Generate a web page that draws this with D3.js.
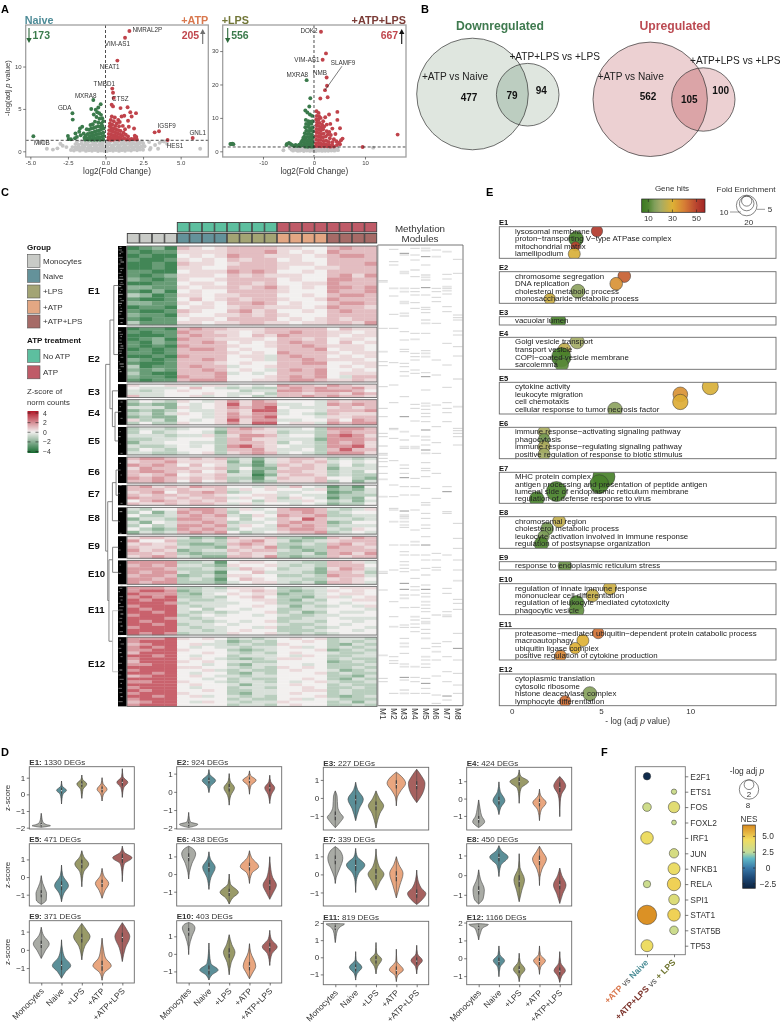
<!DOCTYPE html>
<html><head><meta charset="utf-8">
<script src="https://cdnjs.cloudflare.com/ajax/libs/d3/7.8.5/d3.min.js"></script>
<style>html,body{margin:0;padding:0;background:#fff}svg{display:block;font-family:"Liberation Sans",Arial,sans-serif;filter:blur(.35px)}</style>
</head><body><div id="chart"></div>
<script>
// ---------- A: volcano data ----------
const naiveGrey=[[-3.9,.3],[-3.5,.2],[-3.2,.35],[-4.4,1],[-4.1,1.05],[-3,.9],[-2.85,.65],[-2.6,.5],[3,.4],[3.3,.75],[3.5,.3],[3.6,1],[3.9,1.15],[3.75,1.2],[6.3,.3],[4.1,.9],[2.9,1.1],[2.95,.2],
[-2.3,.15],[-2.1,.1],[-1.9,.2],[-1.7,.08],[-1.5,.18],[-1.3,.05],[-1.1,.12],[-.9,.06],[-.7,.15],[-.5,.03],[-.3,.1],[-.1,.05],[.1,.04],[.3,.12],[.5,.06],[.7,.15],[.9,.05],[1.1,.14],[1.3,.07],[1.5,.17],[1.7,.1],[1.9,.2],[2.1,.13],[2.3,.22],[2.5,.18],
[-2.2,.5],[-2,.45],[-1.8,.55],[-1.6,.42],[-1.4,.5],[-1.2,.38],[-1,.47],[-.8,.36],[-.6,.44],[-.4,.4],[-.2,.35],[0,.4],[.2,.38],[.4,.45],[.6,.36],[.8,.47],[1,.4],[1.2,.5],[1.4,.42],[1.6,.53],[1.8,.45],[2,.55],[2.2,.48],[2.4,.58],[2.6,.6],
[-2,.85],[-1.8,.78],[-1.6,.88],[-1.4,.76],[-1.2,.84],[-1,.73],[-.8,.82],[-.6,.72],[-.4,.8],[-.2,.7],[.05,.75],[.25,.82],[.45,.72],[.65,.85],[.85,.74],[1.05,.86],[1.25,.76],[1.45,.88],[1.65,.8],[1.85,.9],[2.05,.83],[2.25,.92],[2.5,.95],
[-1.9,1.15],[-1.6,1.2],[-1.35,1.1],[-1.1,1.18],[-.85,1.08],[-.6,1.16],[-.35,1.06],[-.15,1.18],[.1,1.1],[.35,1.2],[.6,1.1],[.85,1.18],[1.1,1.08],[1.35,1.2],[1.6,1.12],[1.85,1.2],[2.1,1.14],[2.4,1.2],
[-1.75,.3],[-1.45,.28],[-1.15,.25],[-.85,.22],[-.55,.24],[-.25,.2],[.05,.22],[.35,.25],[.65,.26],[.95,.23],[1.25,.3],[1.55,.3],[1.85,.33],[2.15,.3],
[-1.5,.65],[-1.1,.6],[-.7,.58],[-.3,.6],[.1,.57],[.5,.6],[.9,.62],[1.3,.64],[1.7,.66],[2.1,.7],[-1.2,1],[-.7,.96],[-.2,.95],[.2,1],[.7,.97],[1.2,.98],[1.7,1.02],[2.2,1.05]];
const naiveDown=[[-4.8,1.77],[-2.2,4.49],[-2.18,3.74],[-2.03,1.54],[-2.3,1.42],[-2.45,1.45],[-2.5,1.8],[-2,2.1],[-1.9,1.7],[-1.75,2.3],[-1.65,1.9],[-1.7,2.7],[-1.55,2.9],[-1.45,2.1],[-1.4,1.6],[-1.35,1.4],
[-.81,6.06],[-.48,5.16],[-.32,5.55],[-.65,4.9],[-.95,5],[-.55,4.6],[-.42,4.5],[-.78,4.35],[-.3,4.3],[-.6,4.05],[-.4,3.85],[-.22,3.9],[-.7,3.5],[-.48,3.4],[-.28,3.3],[-.15,3.55],[-1,3.1],[-.85,3.2],[-1.25,2.6],[-1.1,2.55],[-.95,2.7],[-.8,2.75],[-.65,2.85],[-.5,2.95],[-.35,2.9],[-.2,3],[-.12,2.7],[-.28,2.6],[-.42,2.45],[-.58,2.4],[-.72,2.3],[-.88,2.2],[-1.02,2.15],[-1.18,2.05],[-1.32,1.85],[-1.22,1.55],[-1.05,1.75],[-.9,1.85],[-.75,1.9],[-.6,2],[-.45,2.05],[-.3,2.1],[-.15,2.2],[-.12,1.8],[-.25,1.7],[-.4,1.65],[-.55,1.6],[-.7,1.55],[-.85,1.5],[-1,1.45],[-1.15,1.4],[-.95,1.35],[-.75,1.35],[-.55,1.35],[-.35,1.35],[-.15,1.4]];
const naiveUp=[[1.59,14.2],[1.3,13.4],[.79,10.7],[.45,7.4],[.5,6.9],[.54,6.3],[.41,5.5],[.5,5.3],[1,5.1],[1.47,5.2],[1.65,4.6],[2.03,4.5],[1.25,4.2],[1.07,4.1],[1.74,4.1],[1.5,3.6],[1.9,2.7],[3.27,2.24],[3.56,2.36],[5.8,1.57],[4.13,1.34],
[.42,4.1],[.62,4],[.85,3.7],[.35,3.7],[.55,3.55],[.75,3.3],[.95,3.45],[.3,3.3],[.45,3.15],[.65,3],[.9,2.95],[1.15,3],[1.3,2.6],[1.55,2.9],[.28,2.95],[.4,2.75],[.55,2.7],[.7,2.6],[.85,2.5],[1,2.4],[1.2,2.2],[.25,2.5],[.38,2.4],[.52,2.3],[.68,2.2],[.82,2.1],[.98,2],[1.12,1.85],[1.35,1.95],[1.5,1.75],[.22,2.05],[.36,2],[.5,1.9],[.64,1.85],[.78,1.75],[.92,1.65],[1.05,1.5],[1.25,1.55],[1.4,1.4],[.2,1.65],[.34,1.6],[.48,1.55],[.62,1.5],[.76,1.42],[.9,1.38],[.2,1.38],[.35,1.35],[.5,1.35],[1.95,1.85],[2,1.6],[1.9,1.45],[2.08,1.4],[2.05,1.7],[1.72,1.45],[1.6,1.38]];
const lpsGrey=[[-6,.3],[11.6,1.1],[-4.7,.9],[-4.4,.5],[-4.1,.2],[-3.8,.95],[-3.5,.4],[-3.2,.15],[-2.9,.7],[-2.6,.3],[-2.3,1],[-2,.1],[-1.7,.55],[-1.4,.25],[-1.1,.85],[-.8,.12],[-.5,.6],[-.2,.2],[.1,.9],[.4,.1],[.7,.5],[1,.2],[1.3,.8],[1.6,.12],[1.9,.5],[2.2,.18],[2.5,.85],[2.8,.15],[3.1,.55],[3.4,.25],[3.7,.9],[4,.2],[4.3,.5],[4.7,.35],
[-4,.55],[-3.3,.75],[-2.8,.2],[-2.4,.65],[-1.9,.9],[-1.5,1.1],[-1,.45],[-.6,1],[-.3,.6],[.2,.45],[.6,1.05],[1.2,.5],[1.7,.95],[2.3,.55],[2.9,1],[3.5,.7],[4.2,1],[4.6,.85]];
const lpsDown=[[-16.4,2.2],[-16.2,2.2],[-16,2.25],[-15.8,2.15],[-5.4,1.9],[-5.3,2.2],[-4.9,2.5],[-4.6,2.2],[-4.3,1.9],[-3.9,1.6],[-3.6,1.9],[-3.3,1.6],[-2.9,2],[-2.7,1.6],[-2.5,2.7],[-2.3,3.2],[-2.4,1.8],[-2.1,4],
[-1.44,21.3],[-.72,15.9],[-.92,13.4],[-1.7,12.2],[-1.3,11.6],[-.8,11],[-.35,10.6],[-1.6,9.4],[-1.1,9],[-.7,8.9],[-.3,9],[-1.55,8.2],[-1,8.1],[-.5,8.2],[-1.7,7.2],[-1.2,7.3],[-.8,7],[-.3,7.1],[-1.5,6.2],[-1,6.1],[-.55,6.2],[-.2,6],[-1.8,5.4],[-1.3,5.2],[-.85,5.2],[-.4,5],[-1.9,4.4],[-1.5,4.2],[-1,4.2],[-.6,4.3],[-.2,4.1],[-1.8,3.5],[-1.3,3.2],[-.85,3.3],[-.4,3.4],[-2,2.9],[-1.6,2.5],[-1.1,2.4],[-.7,2.5],[-.25,2.6],[-2,2],[-1.6,1.8],[-1.2,1.7],[-.8,1.7],[-.35,1.8],[-1.7,1.4],[-1.2,1.35],[-.6,1.4],[-.2,1.4]];
const lpsUp=[[1.37,35.8],[2.35,29.3],[1.7,27.4],[2.48,22.1],[2.55,19.6],[2.16,18.3],[1.24,15.8],[2.68,16.2],[4.58,11.8],[4.58,9.4],[5.1,6.9],[16.4,5],[9.54,1.3],
[.5,12],[.9,11.5],[.55,10.6],[1,10.5],[1.3,10],[.45,9.6],[.9,9.5],[2.95,11],[2.2,10.2],[3.2,8.2],[2.5,8],[1.8,9],[.6,8.7],[1.1,8.5],[1.6,8],[.5,7.8],[.95,7.6],[1.4,7.2],[2,7.4],[.45,6.7],[.9,6.6],[1.35,6.2],[1.8,6.6],[2.5,6],[3,5.8],[3.6,6.8],[.5,5.7],[.95,5.5],[1.4,5.2],[1.9,5.3],[2.7,5],[3.3,4.9],[4.2,5.2],[.4,4.6],[.85,4.5],[1.3,4.3],[1.8,4.2],[2.3,4.4],[3.1,3.9],[3.9,3.6],[5.6,3.8],[5.3,3.3],[.45,3.5],[.9,3.4],[1.35,3.4],[1.9,3.1],[2.4,3.2],[2.9,2.8],[3.6,2.7],[4.4,3],[4.9,2.6],[5.1,2.1],[4.5,1.9],[.4,2.4],[.85,2.5],[1.35,2.3],[1.9,2.2],[2.4,2.1],[3,1.9],[3.6,1.8],[.4,1.6],[.9,1.6],[1.4,1.5],[2,1.5],[2.6,1.5],[3.2,1.4],[3.9,1.45]];
const naiveLabels=[["NMRAL2P",1.59,14.2,17.9,-1],["VIM-AS1",1.3,13.4,-7.7,5.9],["NEAT1",.79,10.7,-7.7,6],["TMBD1",.45,7.4,-8,-5.3],["MXRA8",-.81,6.06,-7.6,-4.9],["CTSZ",.5,6.9,7.3,5.8],["GDA",-2.2,4.49,-7.7,-5.6],["IGSF9",3.56,2.36,7.7,-5.6],["GNL1",5.8,1.57,5,-5.3],["HES1",4.13,1.34,7.4,5.7],["MICB",-4.8,1.77,8.6,6]];
const lpsLabels=[["DOK2",1.37,35.8,-12,-1],["VIM-AS1",1.7,27.4,-15.7,0],["SLAMF9",2.16,18.3,18,-27.8],["MXRA8",-1.44,21.3,-9.4,-5.4],["NMB",2.48,22.1,-6.6,-5]];
const volcanoXTicksA=[-5,-2.5,0,2.5,5], volcanoYTicksA=[0,5,10];
const volcanoXTicksB=[-10,0,10], volcanoYTicksB=[0,10,20,30];

// ---------- B: venn ----------
const vennDownCounts=[477,79,94], vennUpCounts=[562,105,100];

// ---------- C: heatmap ----------
const clusterNames=["E1","E2","E3","E4","E5","E6","E7","E8","E9","E10","E11","E12"];
const clusterGenes=[1330,924,227,424,471,438,339,450,371,403,819,1166];
const groupNames=["Monocytes","Naive","+LPS","+ATP","+ATP+LPS"];
const atpNames=["No ATP","ATP"];
const heatCodeValues=[-3.4,-2.7,-1.9,-1.1,-.5,0,.45,1,1.7,2.8];
const heatE1=["0120 7656 7777 6655 7877","1011 6666 7778 6565 8777","0100 5656 8776 6656 7887","1001 6565 7677 5655 7777","0010 7665 6777 6665 7778","0010 6655 7777 6556 6777","1100 5666 8787 5565 7777","1012 6665 7676 6655 7868","2101 6556 7777 5655 8877","0011 5665 7767 5566 8777","2211 6566 7678 6565 8878","1020 5655 7777 6555 8778","3201 6656 6777 5565 7887","1001 5756 7677 6556 8777","2211 6565 7787 5655 7887","0110 5665 6776 6656 8776","1001 7655 7867 5565 7877","2110 6556 6767 6555 7777","1011 5665 7777 5656 7677","3111 6656 6776 6566 7768"];
const heatE2=["0110 7877 6667 7777 5766","1011 8776 6567 7877 6656","0001 7877 6576 8777 6566","0120 8776 6665 7767 5665","1021 7787 5656 7877 5756","1010 8777 6556 7787 6665","0101 7887 5655 7778 5665","1101 7777 6565 8777 6566","0010 8777 5664 7877 5656","2101 7787 5564 7787 6665","1001 7776 5655 7788 5566","3011 7877 4556 7777 5656","2121 7787 5654 7878 5565","3100 7778 4545 7778 5666","2110 8778 5556 7878 5477","1011 7888 5566 7887 6676"];
const heatE3=["6556 6466 4545 8776 8766","5444 5754 3433 7878 7786","4345 6555 5344 8878 8875","4445 5565 4453 7767 7687","7445 5645 4534 7787 8776"];
const heatE4=["3543 6546 8687 5554 7677","2322 5456 9688 4454 8787","4442 6456 8789 5444 6767","2323 5446 7699 4554 7778","3424 6546 8688 4543 7666","2322 5546 8789 5554 6677","6342 5456 9688 4455 7587","3533 6556 8699 5664 8788"];
const heatE5=["3443 4553 7876 4453 8887","3534 5542 7766 3443 7877","4443 4463 6887 4553 8986","3344 5553 7866 4442 8887","2445 5443 7776 3543 8786","4334 5453 8976 5443 8896","3543 5553 7786 4453 7977","4433 4563 6787 4543 8886"];
const heatE6=["7887 6767 3424 6776 3434","6778 6666 2414 6767 4545","8787 5756 3313 7676 3534","6877 7667 3522 6776 2444","7887 6756 2413 7766 3435","7678 5667 4402 6776 3433","8787 6767 3314 7667 5532","7787 5756 3423 6667 3524"];
const heatE7=["7867 6877 5546 4754 1315","7776 7667 4656 5546 2324","6785 7787 3455 4455 1234","7677 6776 5566 4544 2333","8776 7677 4656 3654 1325","5787 6767 5536 4465 3424","7667 6776 4645 5454 2335"];
const heatE8=["4355 7887 4645 7887 4346","3524 8787 3554 7787 3455","5334 7878 4365 8778 3344","2443 8877 5354 7697 4434","4254 7787 3445 7877 2355","3534 8878 4654 8787 3444","5323 8787 3544 7887 4365","2434 7878 5345 6778 3454"];
const heatE9=["6776 4232 7667 3322 7687","8557 3343 6786 4234 6777","6766 3223 7876 3343 7867","7667 4332 6768 3233 8776","8676 2344 7677 4323 7777","7767 3233 6766 3342 7868","6787 4322 7768 3233 7677"];
const heatE10=["8888 3341 5665 4433 7764","7878 4432 6556 4343 7775","8887 3343 4765 3442 6874","8788 4331 5574 4432 7763","7887 2342 6655 3343 8774","8878 3431 5765 4433 6765","8788 3332 4566 4342 7764"];
const heatE11=["8887 3343 6665 3344 5666","8998 2344 5676 3234 6565","9888 3245 6566 2334 5665","8989 3343 5675 3324 6456","9899 4334 5566 3243 5566","9998 3444 4556 3334 5455","8999 4344 5565 4243 4546","9899 4535 5455 3344 5554","9989 4343 4556 3423 5445","8999 3454 5545 4334 4555","9998 4345 5555 3344 5444","9899 4434 5456 3443 5545","9989 3445 4555 4334 5455","8999 4344 5546 3343 4554","9999 4434 5655 3334 5545","9898 3444 6556 4343 4555"];
const heatE12=["8889 6565 3434 5656 3443","8999 5554 2343 5565 3434","7899 5644 3433 6555 3243","8989 5454 4344 5645 3434","8899 6555 3234 5556 2343","7999 5565 4343 5655 4334","9989 5455 3444 5465 3344","8999 5654 3234 6655 3433","7999 6565 4433 5555 2343","8899 5545 3244 5545 3334","9999 6655 4343 6565 3343","8999 5564 3433 5655 4234","9989 5455 3243 5556 3433","7899 5654 4344 5555 3324","9999 5545 3433 5565 3243","8899 6554 3443 5456 4334","9999 5655 4244 5655 3433","8999 5455 3443 5565 3343","9899 5565 3344 5566 3433","8999 6555 3244 5655 3433","9989 5645 4343 5556 3234","8999 5555 3433 5645 4333","7899 5465 4344 6555 3424","8999 5555 3443 5655 3343"];
const heatByCluster=[heatE1,heatE2,heatE3,heatE4,heatE5,heatE6,heatE7,heatE8,heatE9,heatE10,heatE11,heatE12];
const treeMerges={h:1,children:[{h:.79,children:[{h:.6,children:[{c:0},{c:1}]},{h:.67,children:[{c:2},{h:.54,children:[{c:3},{c:4}]}]}]},{h:.9,children:[{h:.67,children:[{h:.49,children:[{c:5},{c:6}]},{c:7}]},{h:.84,children:[{h:.66,children:[{c:8},{c:9}]},{h:.66,light:true,children:[{c:10},{c:11}]}]}]}]};
const leafFleckRows=[22,30,36,41,52,60,66,72,85,92,100,110,118,127,133,140,148,155,163,175,182,190,197,205,214,222,236,248,275,283,290,300,310,318,325,333,340,352,365,372,380,388,395,486,500,515,535,575,590,612,640,670,690,705,735,760,790,815,845,880,905,930,975,1000,1035,1045,1055,1070,1080,1090,1100,1110,1122,1135,1146,1158,1175,1188,1200,1212,1225,1238,1250,1270,1290,1305,1318,1330,1345,1358,1370,1385];
const leafFleckLengths=[3,5,4,2,6,4,5,3,6,2,4,5,7,3,6,4,3,2,6,3,5,5,2,2,4,4,6,3,4,5,2,3,5,4,6,5,3,4,2,6,5,3,3,3,2,4,3,2,3,2,3,2,3,2,3,2,3,4,2,3,2,3,2,4,3,4,2,5,3,3,6,6,4,4,5,3,5,3,2,5,4,3,3,5,4,4,6,2,5,4,3,6];
const leafFleckStarts=[1,0,2,1,0,1,2,0,1,2,0,1,0,2,1,0,2,1,0,1,2,0,1,2,1,0,1,2,0,1,2,1,0,2,1,0,1,2,0,1,2,0,1,2,1,0,2,1,0,1,2,1,0,2,1,0,2,1,0,1,2,0,1,0,2,1,0,1,2,0,1,0,2,1,0,2,1,0,1,2,0,1,2,0,1,0,1,2,0,1,2,0];
const moduleNames=["M1","M2","M3","M4","M5","M6","M7","M8"];
const methLight=[[395,678,1306,705,778,830,1055],[205,628,905,1220],[155,160,205,215,245,250,280,288,635,660,680,885,895,905,1125,1135,1270,1280,1340,1410,1420],[150,358,680,685,965,975,1190,1200,1340],[85,92,165,172,180,300,310,400,410,550,650,660,700,855,1065,1130,1145,1205,1210,1255,1310],[110,1185,1295],[95,200,212],[477,560,1082]];
const methMid=[[182,186,325,425,437,500,565,590,640,650,700,715,725,740,760,1060,1110,1375,1385],[88,125,135,228,283,325,428,495,548,625,655,722,795,830,865,870,975,1050,1145,1190,1310,1322,1330,1420],[105,335,360,388,395,430,440,455,468,530,685,735,745,760,800,825,890,915,922,975,995,1005,1025,1035,1045,1055,1163,1215,1222,1255,1300,1332,1380],[85,105,120,170,205,215,225,248,265,340,400,410,420,450,460,553,565,603,648,775,800,825,870,930,1005,1050,1075,1100,1110,1125,1162,1212,1222,1235,1372,1385,1420],[135,225,262,268,278,340,392,458,510,558,568,580,590,605,675,728,745,752,770,805,848,880,895,915,925,950,1005,1020,1045,1095,1120,1155,1165,1175,1195,1228,1240,1285,1320,1332,1342,1375,1405,1420],[90,205,215,232,245,310,420,465,555,620,668,700,760,835,1000,1020,1042,1050,1270,1280,1320,1368,1425,1450],[163,177,205,222,260,275,370,435,502,548,565,578,605,800,875,880,1005,1105,1120,1175,1185,1190,1265,1310,1355,1385,1440],[118,160,285,293,300,333,345,380,408,625,632,640,650,675,910,955,985,1020,1050,1138,1150,1168,1240,1320,1360,1395,1420]];
const methDark=[[],[],[100,590,773,873,1090,1108,1372],[],[110,203,470,630,690,975,1108,1390],[],[815,1428],[1285]];

// ---------- D: violins, each violin listed as [z-score, density] from top to bottom ----------
const violinNames=["Monocytes","Naive","+LPS","+ATP","+ATP+LPS"];
const violinCounts=[1330,924,227,424,471,438,339,450,371,403,819,1166];
const violinDomains=[[-2.08,1.66],[-2.04,1.38],[-1.78,1.7],[-1.81,1.8],[-1.64,1.89],[-1.81,1.72],[-1.75,1.7],[-1.57,1.6],[-1.82,1.6],[-1.66,1.89],[-1.6,2.1],[-1.48,2.07]];
const violinMedians=[[-1.82,.22,.62,.3,.72],[-1.77,.62,.22,.64,.22],[-1,-.1,-.44,.75,.7],[-1.2,-.12,.98,-.23,.65],[-.95,-.49,.74,-.36,1.05],[.95,.38,-1.04,.42,-.62],[.8,.5,.02,-.1,-1.06],[-.78,.9,-.3,.75,-.5],[.3,-.85,.65,-.87,.68],[1.25,-.92,.05,-.7,.38],[1.72,-.62,-.15,-.76,-.22],[1.7,-.18,-.64,-.18,-.72]];
const violinE1=[[[-1.14,0],[-1.4,.06],[-1.66,.16],[-1.82,.55],[-1.88,.92],[-1.93,.6],[-1.98,0]],[[.8,0],[.5,.07],[.24,.5],[.02,.15],[-.25,.05],[-.58,0]],[[1.16,0],[.9,.08],[.62,.5],[.3,.12],[0,.05],[-.24,0]],[[1,0],[.65,.1],[.3,.5],[.02,.16],[-.4,0]],[[1.54,0],[1.05,.08],[.72,.55],[.42,.16],[.1,.04],[-.18,0]]];
const violinE2=[[[-1.13,0],[-1.45,.07],[-1.66,.18],[-1.78,.92],[-1.88,.6],[-1.96,0]],[[1.22,0],[.95,.1],[.62,.67],[.3,.16],[.1,.05],[-.04,0]],[[1,0],[.6,.1],[.22,.53],[-.2,.16],[-.73,0]],[[1.15,0],[.9,.12],[.64,.67],[.35,.16],[-.13,0]],[[.91,0],[.55,.1],[.22,.5],[-.15,.17],[-.64,0]]];
const violinE3=[[[.39,0],[.1,.18],[-.5,.24],[-.85,.5],[-1.07,.8],[-1.3,.55],[-1.65,0]],[[.87,0],[.45,.2],[-.07,.77],[-.6,.35],[-1.26,0]],[[.39,0],[-.05,.35],[-.44,.77],[-.85,.4],[-1.67,0]],[[1.43,0],[1.2,.5],[.81,.93],[.4,.45],[0,.08],[-.44,0]],[[1.59,0],[1.2,.5],[.81,.83],[.2,.55],[-.26,0]]];
const violinE4=[[[-.08,0],[-.6,.15],[-1,.3],[-1.33,.6],[-1.55,.3],[-1.67,0]],[[.96,0],[.4,.14],[-.12,.6],[-.5,.2],[-.92,0]],[[1.65,0],[1.3,.15],[.98,.93],[.6,.2],[.2,.05],[-.27,0]],[[.54,0],[.15,.15],[-.23,.67],[-.65,.18],[-1.27,0]],[[1.27,0],[1,.4],[.73,.6],[.25,.18],[-.2,.05],[-1.04,0]]];
const violinE5=[[[.08,0],[-.35,.15],[-.7,.4],[-.92,.53],[-1.3,.5],[-1.55,0]],[[.68,0],[.1,.12],[-.49,.7],[-.9,.25],[-1.4,0]],[[1.49,0],[1.15,.2],[.74,.7],[.3,.2],[-.1,.06],[-.55,0]],[[.49,0],[.05,.2],[-.36,.67],[-.75,.3],[-1.2,0]],[[1.75,0],[1.4,.2],[1.09,.97],[.75,.2],[.3,.05],[-.26,0]]];
const violinE6=[[[1.58,0],[1.4,.5],[1.13,.7],[.6,.33],[.1,.08],[-.28,0]],[[1.26,0],[.85,.15],[.38,.63],[-.2,.2],[-.87,0]],[[0,0],[-.55,.12],[-1.04,.92],[-1.35,.35],[-1.7,0]],[[1.32,0],[.95,.2],[.42,.92],[.05,.25],[-.53,0]],[[.98,0],[.4,.08],[-.2,.3],[-.62,.67],[-1.05,.35],[-1.43,0]]];
const violinE7=[[[1.54,0],[1.3,.5],[.89,.75],[.3,.42],[-.15,.1],[-.5,0]],[[1.44,0],[1,.15],[.52,.92],[.05,.3],[-.4,.06],[-1,0]],[[1.41,0],[.85,.1],[.4,.35],[.02,.8],[-.4,.4],[-.87,0]],[[.98,0],[.55,.25],[.06,.67],[-.6,.35],[-1.3,0]],[[.24,0],[-.3,.12],[-.75,.45],[-1.06,.92],[-1.4,.55],[-1.67,0]]];
const violinE8=[[[.27,0],[-.2,.18],[-.75,.57],[-1.2,.45],[-1.47,0]],[[1.5,0],[1.25,.25],[.92,.92],[.5,.2],[-.07,0]],[[1.09,0],[.4,.08],[-.24,.53],[-.8,.25],[-1.35,0]],[[1.47,0],[1.2,.3],[.82,.7],[.3,.25],[-.1,.05],[-.53,0]],[[.36,0],[0,.2],[-.5,.63],[-.95,.3],[-1.44,0]]];
const violinE9=[[[1.24,0],[.8,.22],[.33,.8],[-.05,.4],[-.47,0]],[[.55,0],[0,.1],[-.4,.3],[-.87,.92],[-1.2,.4],[-1.56,0]],[[1.45,0],[1.1,.45],[.73,.83],[.2,.3],[-.55,0]],[[.64,0],[0,.15],[-.45,.35],[-.87,.92],[-1.25,.25],[-1.67,0]],[[1.49,0],[1.1,.45],[.73,.75],[.1,.3],[-.64,0]]];
const violinE10=[[[1.79,0],[1.68,.45],[1.47,.63],[1,.33],[.4,.05],[-.04,0]],[[.62,0],[0,.06],[-.55,.2],[-.92,.92],[-1.2,.3],[-1.49,0]],[[1.09,0],[.55,.25],[.09,.58],[-.5,.2],[-1.19,0]],[[.58,0],[.1,.12],[-.7,.63],[-1.1,.3],[-1.42,0]],[[1.34,0],[.85,.15],[.4,.75],[0,.22],[-.66,0]]];
const violinE11=[[[1.97,0],[1.95,.92],[1.78,.5],[1.55,.2],[1.2,.08],[.86,0]],[[.33,0],[-.15,.05],[-.58,.63],[-.95,.15],[-1.33,0]],[[.86,0],[.25,.07],[-.12,.57],[-.55,.15],[-.97,0]],[[.47,0],[-.2,.05],[-.74,.7],[-1.05,.15],[-1.42,0]],[[.7,0],[.2,.08],[-.19,.57],[-.55,.12],[-.97,0]]];
const violinE12=[[[1.94,0],[1.89,.97],[1.7,.4],[1.45,.2],[1.2,.06],[1.03,0]],[[.69,0],[.2,.1],[-.13,.57],[-.5,.12],[-1.03,0]],[[.28,0],[-.2,.1],[-.62,.58],[-1,.12],[-1.31,0]],[[.69,0],[.2,.1],[-.13,.6],[-.5,.12],[-.9,0]],[[.37,0],[-.25,.1],[-.69,.57],[-1,.2],[-1.35,0]]];
const violinsByCluster=[violinE1,violinE2,violinE3,violinE4,violinE5,violinE6,violinE7,violinE8,violinE9,violinE10,violinE11,violinE12];

// ---------- E: enrichment ----------
const goTerms=[["lysosomal membrane","proton\u2212transporting V\u2212type ATPase complex","mitochondrial matrix","lamellipodium"],["chromosome segregation","DNA replication","cholesterol metabolic process","monosaccharide metabolic process"],["vacuolar lumen"],["Golgi vesicle transport","transport vesicle","COPI\u2212coated vesicle membrane","sarcolemma"],["cytokine activity","leukocyte migration","cell chemotaxis","cellular response to tumor necrosis factor"],["immune response\u2212activating signaling pathway","phagocytosis","immune response\u2212regulating signaling pathway","positive regulation of response to biotic stimulus"],["MHC protein complex","antigen processing and presentation of peptide antigen","lumenal side of endoplasmic reticulum membrane","regulation of defense response to virus"],["chromosomal region","cholesterol metabolic process","leukocyte activation involved in immune response","regulation of postsynapse organization"],["response to endoplasmic reticulum stress"],["regulation of innate immune response","mononuclear cell differentiation","regulation of leukocyte mediated cytotoxicity","phagocytic vesicle"],["proteasome\u2212mediated ubiquitin\u2212dependent protein catabolic process","macroautophagy","ubiquitin ligase complex","positive regulation of cytokine production"],["cytoplasmic translation","cytosolic ribosome","histone deacetylase complex","lymphocyte differentiation"]];
const goLogP=[[4.77,3.6,3.57,3.5],[6.3,5.85,3.7,2.13],[2.6],[3.66,2.95,2.77,2.8],[11.12,9.44,9.44,5.78],[1.81,1.81,1.81,1.81],[5.16,4.9,2.5,1.4],[2.65,1.98,1.78,1.65],[2.97],[5.5,4.52,3.63,3.63],[4.84,3.98,3.55,2.73],[null,null,4.37,2.99]];
const goFold=[[6.1,10.2,4.1,6.8],[7.6,7.6,9.3,6.1],[11.1],[9.3,7.6,17.7,8.4],[12.1,10.2,11.1,10.2],[6.8,6.1,6.8,6.8],[22.9,16.5,18.9,10.2],[7.6,7.6,6.1,9.3],[8.4],[8.4,7.6,10.2,10.2],[6.1,6.8,6.1,6.1],[null,null,9.3,6.1]];
const goHits=[[52,8,50,29],[45,36,17,27],[8],[20,25,7,11],[29,36,31,17],[21,14,22,20],[8,8,8,8],[25,14,15,10],[13],[27,26,9,12],[42,30,30,38],[null,null,16,43]];
const hitTicks=[10,30,50], foldLegend=[5,10,20], logpTicks=[0,5,10];

// ---------- F: TF bubble ----------
const tfNames=["E2F1","ETS1","FOS","FOXL2","IRF1","JUN","NFKB1","RELA","SPI1","STAT1","STAT5B","TP53"];
const tfSizeAtp=[1.16,null,1.57,null,3.37,null,null,1.16,null,8,null,3.06];
const tfSizeLps=[null,.62,2.76,.49,null,1.88,3.06,3.8,2.39,3.37,1.57,null];
const tfNesAtp=[-2.8,null,3,null,4.3,null,null,2.9,null,6.6,null,4.3];
const tfNesLps=[null,2.9,3.8,2.8,null,3.3,4.2,4.8,3.6,4.8,2.9,null];
const nesTicks=[-2.5,0,2.5,5];

const groupColors=["#c9cbc7","#64929a","#a3a474","#e3a783","#a66b67"];
const violinColors=["#a9aba5","#5b8f98","#999a68","#e9a67f","#a6615f"];
const atpColors=["#5dbf9f","#bf5b68"];
const textCol="#2b2b2b";

const svg=d3.select("#chart").append("svg").attr("width",781).attr("height",1025).attr("viewBox","0 0 781 1025");
const defs=svg.append("defs");
function T(g,x,y,s,o={}){const t=g.append("text").attr("x",x).attr("y",y).attr("font-size",o.size||7).attr("fill",o.fill||textCol).attr("text-anchor",o.anchor||"start").attr("dominant-baseline","central");if(o.weight)t.attr("font-weight",o.weight);if(o.rot!=null)t.attr("transform",`rotate(${o.rot} ${x} ${y})`);t.text(s);return t;}
[["A",1,9],["B",421,9],["C",1,192],["D",1,752],["E",486,192],["F",601,752]].forEach(d=>T(svg,d[1],d[2],d[0],{size:11,weight:"bold",fill:"#000"}));

// ---------- Panel A ----------
function styleAxis(a,fs,col){a.select(".domain").remove();a.selectAll("line").attr("stroke","#444").attr("stroke-width",.7);a.selectAll("text").attr("font-size",fs).attr("fill",col||"#333").attr("font-family","Liberation Sans, Arial, sans-serif");}
const hyphenFmt=f=>v=>f(v).replace("\u2212","-");
function volcano(o){
  const g=svg.append("g");
  const x=d3.scaleLinear(o.xd,[o.x0,o.x1]),y=d3.scaleLinear(o.yd,[157,25]);
  const pts=(d,c)=>g.append("g").selectAll("circle").data(d).join("circle").attr("cx",p=>x(p[0])).attr("cy",p=>y(p[1])).attr("r",1.95).attr("fill",c);
  pts(o.grey,"#c5c5c5");pts(o.down,"#3a7a4b");pts(o.up,"#c0434b");
  g.append("line").attr("x1",o.x0).attr("x2",o.x1).attr("y1",y(1.3)).attr("y2",y(1.3)).attr("stroke","#222").attr("stroke-width",.8).attr("stroke-dasharray","3,2");
  g.append("line").attr("x1",x(0)).attr("x2",x(0)).attr("y1",25).attr("y2",157).attr("stroke","#222").attr("stroke-width",.8).attr("stroke-dasharray","3,2");
  g.append("rect").attr("x",o.x0).attr("y",25).attr("width",o.x1-o.x0).attr("height",132).attr("fill","none").attr("stroke","#a0a0a0").attr("stroke-width",1.3);
  const ax=g.append("g").attr("transform","translate(0,157)").call(d3.axisBottom(x).tickValues(o.xt).tickSize(2.5).tickPadding(1.5).tickFormat(hyphenFmt(o.xf)));styleAxis(ax,6,"#444");
  const ay=g.append("g").attr("transform",`translate(${o.x0},0)`).call(d3.axisLeft(y).tickValues(o.yt).tickSize(2.5).tickPadding(1.5).tickFormat(d3.format("d")));styleAxis(ay,6,"#444");
  T(g,(o.x0+o.x1)/2,171,"log2(Fold Change)",{size:8.2,anchor:"middle",fill:"#333"});
  T(g,o.x0-1,19.5,o.t1,{size:10.8,weight:"bold",fill:o.c1});
  T(g,o.x1,19.5,o.t2,{size:10.8,weight:"bold",fill:o.c2,anchor:"end"});
  T(g,o.dx+3.5,35,o.nDown,{size:10.5,weight:"bold",fill:"#3b7b4c"});
  T(g,o.ux-3.5,35,o.nUp,{size:10.5,weight:"bold",fill:"#c0474e",anchor:"end"});
  const ar=(ax0,dir,col)=>{const y0=dir>0?28:44,y1=dir>0?43:29;g.append("line").attr("x1",ax0).attr("x2",ax0).attr("y1",y0).attr("y2",y1-dir*4).attr("stroke",col).attr("stroke-width",1.1);g.append("path").attr("d",`M${ax0-2.7},${y1-dir*5}L${ax0+2.7},${y1-dir*5}L${ax0},${y1}Z`).attr("fill",col);};
  ar(o.dx,1,"#2e6a3c");ar(o.ux,-1,o.upCol);
  o.labels.forEach(l=>{T(g,x(l[1])+l[3],y(l[2])+l[4],l[0],{size:6.3,anchor:"middle",fill:"#333"});});
  if(o.lead){g.append("line").attr("x1",x(o.lead[0])).attr("y1",y(o.lead[1])).attr("x2",x(o.lead[0])+17).attr("y2",y(o.lead[1])-24).attr("stroke","#222").attr("stroke-width",.6);}
}
volcano({x0:25.7,x1:208.3,xd:[-5.31,6.84],yd:[-.67,14.9],grey:naiveGrey,down:naiveDown,up:naiveUp,xt:volcanoXTicksA,yt:volcanoYTicksA,xf:d3.format(".1f"),t1:"Naive",c1:"#4d8b97",t2:"+ATP",c2:"#d9784e",dx:29,ux:202.7,nDown:"173",nUp:"205",upCol:"#6f6f6f",labels:naiveLabels});
volcano({x0:222.7,x1:406,xd:[-17.9,18.04],yd:[-1.7,37.8],grey:lpsGrey,down:lpsDown,up:lpsUp,xt:volcanoXTicksB,yt:volcanoYTicksB,xf:d3.format("d"),t1:"+LPS",c1:"#717637",t2:"+ATP+LPS",c2:"#7a3a35",dx:227.7,ux:401.7,nDown:"556",nUp:"667",upCol:"#111",labels:lpsLabels,lead:[2.16,18.3]});
T(svg,7,88,"",{size:7.8,anchor:"middle",rot:-90,fill:"#333"}).call(t=>{t.append("tspan").text("-log(adj ");t.append("tspan").attr("font-style","italic").text("p");t.append("tspan").text(" value)");});

// ---------- Panel B ----------
function venn(o){
  const g=svg.append("g");
  const cid="clip"+o.id;
  defs.append("clipPath").attr("id",cid).append("circle").attr("cx",o.a[0]).attr("cy",o.a[1]).attr("r",o.a[2]);
  g.append("circle").attr("cx",o.a[0]).attr("cy",o.a[1]).attr("r",o.a[2]).attr("fill",o.f1);
  g.append("circle").attr("cx",o.b[0]).attr("cy",o.b[1]).attr("r",o.b[2]).attr("fill",o.f1);
  g.append("circle").attr("clip-path",`url(#${cid})`).attr("cx",o.b[0]).attr("cy",o.b[1]).attr("r",o.b[2]).attr("fill",o.f2);
  [o.a,o.b].forEach(c=>g.append("circle").attr("cx",c[0]).attr("cy",c[1]).attr("r",c[2]).attr("fill","none").attr("stroke","#333").attr("stroke-width",.7));
  T(g,o.title[1],26,o.title[0],{size:12.2,weight:"bold",fill:o.tc,anchor:"middle"});
  T(g,o.l1[0],o.l1[1],"+ATP vs Naive",{size:10.1,anchor:"middle",fill:"#222"});
  T(g,o.l2[0],o.l2[1],"+ATP+LPS vs +LPS",{size:10.1,anchor:"middle",fill:"#222"});
  o.counts.forEach((c,i)=>T(g,o.np[i][0],o.np[i][1],c,{size:10,weight:"bold",anchor:"middle",fill:"#111"}));
}
venn({id:"d",a:[472.5,94,55.8],b:[527.7,94.7,31.3],f1:"#dfe6df",f2:"#bccdc0",title:["Downregulated",500],tc:"#3f7a4f",l1:[455,76],l2:[554.7,56.7],counts:vennDownCounts,np:[[469,97],[512,95.7],[541.3,90.7]]});
venn({id:"u",a:[650.2,99.3,57.2],b:[703.3,99.5,31.7],f1:"#ecd0d2",f2:"#dba4a7",title:["Upregulated",675],tc:"#bb4a52",l1:[630.7,76],l2:[735.3,60.7],counts:vennUpCounts,np:[[648,96.3],[689.3,99],[720.7,90.3]]});

// ---------- Panel C ----------
const cg=svg.append("g");
const samples=d3.range(20);
const xHeat=d3.scaleBand(samples,[127,377]);
const heatColor=d3.scaleLinear([-4,0,4],["#24733c","#f2f0ef","#b72535"]);
const heatTop=246,pxPerGene=.0594,clusterGap=2.1;
const clusterBands=[];let yc=heatTop;
clusterGenes.forEach(n=>{const h=n*pxPerGene;clusterBands.push([yc,yc+h]);yc+=h+clusterGap;});
defs.append("filter").attr("id","soft").attr("x","-2%").attr("y","-2%").attr("width","104%").attr("height","104%").append("feGaussianBlur").attr("stdDeviation",.55);
const heatG=cg.append("g").attr("filter","url(#soft)");
heatByCluster.forEach((rows,ci)=>{
  const yb=d3.scaleBand(d3.range(rows.length),clusterBands[ci]);
  rows.forEach((r,ri)=>{
    const vals=Array.from(r.replace(/ /g,""),ch=>heatCodeValues[+ch]);
    heatG.append("g").selectAll("rect").data(vals).join("rect").attr("x",(d,i)=>xHeat(i)).attr("y",yb(ri)).attr("width",xHeat.bandwidth()+.3).attr("height",yb.bandwidth()+.3).attr("fill",d=>heatColor(d));
  });
});
clusterBands.forEach(b=>cg.append("rect").attr("x",127).attr("y",b[0]).attr("width",250).attr("height",b[1]-b[0]).attr("fill","none").attr("stroke","#6a6a6a").attr("stroke-width",.9));
samples.forEach(i=>{
  cg.append("rect").attr("x",xHeat(i)+.3).attr("y",233.5).attr("width",xHeat.bandwidth()-.6).attr("height",9.5).attr("fill",groupColors[Math.floor(i/4)]).attr("stroke","#3c3c3c").attr("stroke-width",.9);
  if(i>=4)cg.append("rect").attr("x",xHeat(i)+.3).attr("y",222.5).attr("width",xHeat.bandwidth()-.6).attr("height",9.5).attr("fill",atpColors[i<12?0:1]).attr("stroke","#3c3c3c").attr("stroke-width",.9);
});
// leaves + dendrogram
const yLeaf=d3.scaleLinear([15,1395],[245,705]);
clusterBands.forEach(b=>cg.append("rect").attr("x",118).attr("y",b[0]).attr("width",8.5).attr("height",b[1]-b[0]).attr("fill","#000"));
leafFleckRows.forEach((r,i)=>cg.append("line").attr("x1",118.5+leafFleckStarts[i]).attr("x2",118.5+leafFleckStarts[i]+leafFleckLengths[i]*.7).attr("y1",yLeaf(r)).attr("y2",yLeaf(r)).attr("stroke",i%3==0?"#fff":"#aaa").attr("stroke-width",.6));
const xTree=d3.scaleLinear([0,1],[126,105.7]);
const root=d3.hierarchy(treeMerges);
root.eachAfter(n=>{if(n.data.c!=null){n.ty=(clusterBands[n.data.c][0]+clusterBands[n.data.c][1])/2;n.data.h=.377;}else n.ty=d3.mean(n.children,c=>c.ty);});
root.descendants().filter(n=>n.children).forEach(n=>{
  const col=n.data.light?"#bdbdbd":"#777";
  cg.append("path").attr("fill","none").attr("stroke",col).attr("stroke-width",.9).attr("d",
    d3.line()([[xTree(n.children[0].data.h),n.children[0].ty],[xTree(n.data.h),n.children[0].ty],[xTree(n.data.h),n.children[1].ty],[xTree(n.children[1].data.h),n.children[1].ty]]));
});
clusterNames.forEach((n,i)=>{const labY=[290,358,391,412,440,471,493,517,545,573,609,663][i];T(cg,88,labY,n,{size:9.6,weight:"bold",fill:"#111"});});
// legends
T(cg,27,247,"Group",{size:8,weight:"bold",fill:"#111"});
[261,276,291.7,307,321.7].forEach((y,i)=>{cg.append("rect").attr("x",27.5).attr("y",y-6.7).attr("width",12.5).attr("height",13).attr("fill",groupColors[i]).attr("stroke","#555").attr("stroke-width",.6);T(cg,43,y,groupNames[i],{size:8,fill:"#333"});});
T(cg,27,340,"ATP treatment",{size:8,weight:"bold",fill:"#111"});
[356,372.5].forEach((y,i)=>{cg.append("rect").attr("x",27.5).attr("y",y-6.7).attr("width",12.5).attr("height",13).attr("fill",atpColors[i]).attr("stroke","#555").attr("stroke-width",.6);T(cg,43,y,atpNames[i],{size:8,fill:"#333"});});
T(cg,27,391.7,"Z-score of",{size:7.8,fill:"#333"});T(cg,27,402,"norm counts",{size:7.8,fill:"#333"});
const zStops=d3.range(0,1.01,.1);
const gr=defs.append("linearGradient").attr("id","zgrad").attr("x1",0).attr("x2",0).attr("y1",0).attr("y2",1);
zStops.forEach(t=>gr.append("stop").attr("offset",t).attr("stop-color",heatColor(4.3-8.6*t)));
cg.append("rect").attr("x",27.5).attr("y",411).attr("width",11).attr("height",42).attr("fill","url(#zgrad)");
const zScale=d3.scaleLinear([4,-4],[413,451.5]);
[4,2,0,-2,-4].forEach(v=>{[27.5,35.5].forEach(xx=>cg.append("line").attr("x1",xx).attr("x2",xx+3).attr("y1",zScale(v)).attr("y2",zScale(v)).attr("stroke","#222").attr("stroke-width",.6));T(cg,43,zScale(v),v==-4||v==-2?"\u2212"+Math.abs(v):v,{size:6.8,fill:"#333"});});
// methylation
const xMeth=d3.scaleBand(moduleNames,[377.7,463]);
const yMeth=d3.scaleLinear([75,1457],[245,705.7]);
const mg=cg.append("g");
function methLines(data,col,sw){moduleNames.forEach((m,i)=>mg.append("g").selectAll("line").data(data[i]).join("line").attr("x1",xMeth(m)+.6).attr("x2",xMeth(m)+xMeth.bandwidth()-.6).attr("y1",r=>yMeth(r)).attr("y2",r=>yMeth(r)).attr("stroke",col).attr("stroke-width",sw));}
methLines(methLight,"#e4e4e4",1.8);methLines(methMid,"#c9c9c9",.8);methLines(methDark,"#999",1);
mg.append("path").attr("fill","none").attr("stroke","#666").attr("stroke-width",.9).attr("d","M377.7,245H463V705.7H377.7");
cg.append("line").attr("x1",377.7).attr("x2",377.7).attr("y1",245).attr("y2",706).attr("stroke","#999").attr("stroke-width",1.4);
T(cg,420,228,"Methylation",{size:9.8,anchor:"middle",fill:"#333"});T(cg,420,238,"Modules",{size:9.8,anchor:"middle",fill:"#333"});
moduleNames.forEach(m=>{const xx=xMeth(m)+xMeth.bandwidth()/2;cg.append("text").attr("x",xx).attr("y",708).attr("font-size",8.4).attr("fill","#333").attr("dominant-baseline","central").attr("transform",`rotate(90 ${xx} 708)`).text(m);});

// ---------- Panel D ----------
const dPanelX=[[29.3,134.3],[176.7,281.7],[323.3,428.7],[466.7,571.7]];
const dPanelY=[[[766.7,829],[843.7,906],[920.7,983]],[[766.7,829],[843.7,906],[920.7,983]],[[767.3,830],[843.7,906],[921.3,984.7]],[[767.3,830],[843.7,906],[921.3,984.7]]];
const densityPx=d3.scaleLinear([0,1],[0,10]);
clusterNames.forEach((n,i)=>{
  const col=i%4,row=Math.floor(i/4);
  const [x0,x1]=dPanelX[col],[y0,y1]=dPanelY[col][row];
  const g=svg.append("g");
  const x=d3.scalePoint(violinNames,[x0,x1]).padding(.59);
  const y=d3.scaleLinear(violinDomains[i],[y1,y0]);
  violinsByCluster[i].forEach((kn,vi)=>{
    const cx=x(violinNames[vi]);
    const area=d3.area().y(d=>y(d[0])).x0(d=>cx-densityPx(d[1])).x1(d=>cx+densityPx(d[1])).curve(d3.curveMonotoneY);
    g.append("path").attr("d",area(kn)).attr("fill",violinColors[vi]).attr("stroke","#474747").attr("stroke-width",.6);
    const hi=kn[0][0],lo=kn[kn.length-1][0],m=violinMedians[i][vi];
    g.append("line").attr("x1",cx).attr("x2",cx).attr("y1",y(hi)).attr("y2",y(lo)).attr("stroke","#444").attr("stroke-width",.5);
    g.append("line").attr("x1",cx).attr("x2",cx).attr("y1",y(m+(hi-lo)*.12)).attr("y2",y(m-(hi-lo)*.12)).attr("stroke","#444").attr("stroke-width",1.2);
    g.append("circle").attr("cx",cx).attr("cy",y(m)).attr("r",.6).attr("fill","#eee");
  });
  g.append("rect").attr("x",x0).attr("y",y0).attr("width",x1-x0).attr("height",y1-y0).attr("fill","none").attr("stroke","#6a6a6a").attr("stroke-width",.9);
  const yt=i>=10?[-1,0,1,2]:(i<2?[-2,-1,0,1]:[-1,0,1]);
  const ay=g.append("g").attr("transform",`translate(${x0},0)`).call(d3.axisLeft(y).tickValues(yt).tickSize(2.5).tickPadding(1.5).tickFormat(v=>v<0?"\u2212"+(-v):v));styleAxis(ay,8,"#333");
  const t=T(g,x0,y0-4.7,"",{size:8,fill:"#333"});t.append("tspan").attr("font-weight","bold").text(n+":");t.append("tspan").text(" "+violinCounts[i]+" DEGs");
  if(col==0)T(g,8,(y0+y1)/2,"z-score",{size:8,anchor:"middle",rot:-90,fill:"#333"});
  if(row==2){
    const ax=g.append("g").attr("transform",`translate(0,${y1})`).call(d3.axisBottom(x).tickSize(2.5).tickFormat(""));ax.select(".domain").remove();ax.selectAll("line").attr("stroke","#444").attr("stroke-width",.7);
    violinNames.forEach(v=>{const px=x(v)+1,py=y1+6.5;g.append("text").attr("x",px).attr("y",py).attr("font-size",8.4).attr("fill","#333").attr("text-anchor","end").attr("dominant-baseline","central").attr("transform",`rotate(-45 ${px} ${py})`).text(v);});
  }
});

// ---------- Panel E ----------
const eg=svg.append("g");
const eBoxes=[[226.7,258.3],[271.7,303.3],[316.7,325],[337.3,369.3],[382.3,414],[427.3,458.7],[472.3,503.3],[516.7,548.3],[561.7,570],[583.7,614.7],[628.7,660],[674,705.7]];
const xE=d3.scaleLinear([-.7,14.8],[499.3,776]);
const hitStopsV=[5,10,15,20,30,40,50,57],hitStopsC=["#3d7a22","#4f8530","#7f9e5a","#a3ab66","#deb135","#d67d35","#b8432f","#a32525"];
const hitColor=d3.scaleLinear(hitStopsV,hitStopsC);
const rFold=d3.scaleSqrt([0,20],[0,10.3]);
clusterNames.forEach((n,i)=>{
  const [y0,y1]=eBoxes[i];
  const g=eg.append("g");
  const yT=d3.scalePoint(d3.range(goTerms[i].length),[y0,y1]).padding(goTerms[i].length==1?.5:.58);
  defs.append("clipPath").attr("id","ce"+i).append("rect").attr("x",499.3).attr("y",y0).attr("width",276.7).attr("height",y1-y0);
  g.append("g").attr("clip-path",`url(#ce${i})`).selectAll("circle").data(goLogP[i].map((v,k)=>[v,goFold[i][k],goHits[i][k],k]).filter(d=>d[0]!=null)).join("circle")
    .attr("cx",d=>xE(d[0])).attr("cy",d=>yT(d[3])).attr("r",d=>rFold(d[1])).attr("fill",d=>hitColor(d[2])).attr("fill-opacity",.92).attr("stroke","#333").attr("stroke-width",.5);
  goTerms[i].forEach((t,k)=>T(g,515,yT(k),t,{size:7.9,fill:"#222"}));
  g.append("rect").attr("x",499.3).attr("y",y0).attr("width",276.7).attr("height",y1-y0).attr("fill","none").attr("stroke","#6a6a6a").attr("stroke-width",.9);
  T(g,499,y0-4.2,n,{size:7.6,weight:"bold",fill:"#111"});
});
const axE=eg.append("g").attr("transform","translate(0,705.7)").call(d3.axisBottom(xE).tickValues(logpTicks).tickSize(0).tickPadding(3).tickFormat(d3.format("d")));styleAxis(axE,8,"#333");
const eTitle=T(eg,637.7,721,"",{size:8.4,anchor:"middle",fill:"#333"});eTitle.append("tspan").text("- log (adj ");eTitle.append("tspan").attr("font-style","italic").text("p");eTitle.append("tspan").text(" value)");
T(eg,672,188.5,"Gene hits",{size:8,anchor:"middle",fill:"#333"});T(eg,746,189,"Fold Enrichment",{size:8.1,anchor:"middle",fill:"#333"});
const hb=d3.scaleLinear([4.5,57],[641.7,705]);
const hg=defs.append("linearGradient").attr("id","hgrad");
hitStopsV.forEach(v=>hg.append("stop").attr("offset",(v-4.5)/52.5).attr("stop-color",hitColor(v)));
eg.append("rect").attr("x",641.7).attr("y",199).attr("width",63.3).attr("height",13.3).attr("fill","url(#hgrad)").attr("stroke","#222").attr("stroke-width",.7);
hitTicks.forEach(v=>{[[199,202],[209.5,212.3]].forEach(s=>eg.append("line").attr("x1",hb(v)).attr("x2",hb(v)).attr("y1",s[0]).attr("y2",s[1]).attr("stroke","#222").attr("stroke-width",.6));T(eg,hb(v),218,v,{size:8,anchor:"middle",fill:"#333"});});
[[20,205.5],[10,203.5],[5,201]].forEach(d=>eg.append("circle").attr("cx",746.7).attr("cy",d[1]).attr("r",rFold(d[0])).attr("fill","none").attr("stroke","#333").attr("stroke-width",.6));
[["10",724,212,"middle"],["5",770,209.3,"middle"],["20",748.7,222.7,"middle"]].forEach(d=>T(eg,d[1],d[2],d[0],{size:8,anchor:d[3],fill:"#333"}));
eg.append("line").attr("x1",730).attr("x2",741).attr("y1",212).attr("y2",212).attr("stroke","#333").attr("stroke-width",.5);
eg.append("line").attr("x1",757).attr("x2",765).attr("y1",209.3).attr("y2",209.3).attr("stroke","#333").attr("stroke-width",.5);

// ---------- Panel F ----------
const fg=svg.append("g");
const yF=d3.scalePoint(tfNames,[776.3,945.7]);
const xF=d3.scalePoint(["atp","lps"],[647,674]);
const rP=d3.scaleSqrt([0,8],[0,9.7]);
const nesV=[-3.2,-1.5,0,1.5,2.5,4.5,6.8],nesC=["#0c2340","#1e4a78","#3878a8","#5fb8c6","#c2dc9a","#f2dc5e","#d98a20"];
const nesColor=d3.scaleLinear(nesV,nesC);
[["atp",tfSizeAtp,tfNesAtp],["lps",tfSizeLps,tfNesLps]].forEach(s=>{
  fg.append("g").selectAll("circle").data(tfNames.map((t,i)=>[t,s[1][i],s[2][i]]).filter(d=>d[1]!=null)).join("circle").attr("cx",xF(s[0])).attr("cy",d=>yF(d[0])).attr("r",d=>rP(d[1])).attr("fill",d=>nesColor(d[2])).attr("stroke","#333").attr("stroke-width",.5);
});
fg.append("rect").attr("x",635.3).attr("y",766.7).attr("width",50).attr("height",188).attr("fill","none").attr("stroke","#777").attr("stroke-width",.9);
const axF=fg.append("g").attr("transform","translate(685.3,0)").call(d3.axisRight(yF).tickSize(3).tickPadding(2));styleAxis(axF,8.4,"#333");
const axFx=fg.append("g").attr("transform","translate(0,954.7)").call(d3.axisBottom(xF).tickSize(2.5).tickFormat(""));axFx.select(".domain").remove();axFx.selectAll("line").attr("stroke","#444").attr("stroke-width",.7);
function rotLab(px,py,parts){const t=fg.append("text").attr("x",px).attr("y",py).attr("font-size",8.6).attr("text-anchor","end").attr("transform",`rotate(-45 ${px} ${py})`);parts.forEach(p=>{const s=t.append("tspan").attr("fill",p[1]).text(p[0]);if(p[2])s.attr("font-weight","bold");});}
rotLab(649,963,[["+ATP","#d9754a",1],[" vs ","#444"],["Naive","#4b8d96",1]]);
rotLab(676,963,[["+ATP+LPS","#7a3028",1],[" vs ","#444"],["+ LPS","#6f7530",1]]);
const fTitle=T(fg,747,771,"",{size:8.4,anchor:"middle",fill:"#333"});fTitle.append("tspan").text("-log adj ");fTitle.append("tspan").attr("font-style","italic").text("p");
fg.append("circle").attr("cx",749).attr("cy",789.5).attr("r",rP(8)).attr("fill","none").attr("stroke","#333").attr("stroke-width",.6);
fg.append("circle").attr("cx",749).attr("cy",784.7).attr("r",rP(2)).attr("fill","none").attr("stroke","#333").attr("stroke-width",.6);
T(fg,749,794,"2",{size:8,anchor:"middle",fill:"#333"});T(fg,748,805,"8",{size:8,anchor:"middle",fill:"#333"});
T(fg,749,819,"NES",{size:8.2,anchor:"middle",fill:"#333"});
const nb=d3.scaleLinear([6.8,-3.2],[825,888.3]);
const ng=defs.append("linearGradient").attr("id","ngrad").attr("x1",0).attr("x2",0).attr("y1",1).attr("y2",0);
nesV.forEach(v=>ng.append("stop").attr("offset",(v+3.2)/10).attr("stop-color",nesColor(v)));
fg.append("rect").attr("x",742.7).attr("y",825).attr("width",12.6).attr("height",63.3).attr("fill","url(#ngrad)").attr("stroke","#333").attr("stroke-width",.7);
nesTicks.forEach(v=>{[[742.7,745],[753,755.3]].forEach(s=>fg.append("line").attr("x1",s[0]).attr("x2",s[1]).attr("y1",nb(v)).attr("y2",nb(v)).attr("stroke","#222").attr("stroke-width",.6));
  T(fg,768,nb(v),v==0?"0":v<0?"\u22122.5":d3.format(".1f")(v),{size:8.4,anchor:"middle",fill:"#333"});});
</script></body></html>
